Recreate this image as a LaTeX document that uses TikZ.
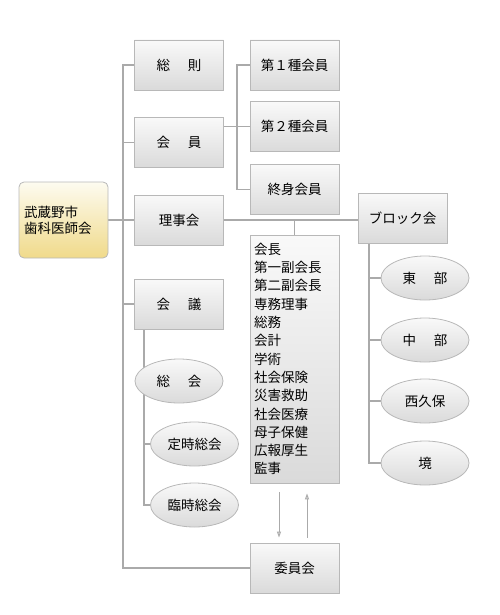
\documentclass[tikz,border=0pt]{standalone}
\usepackage{fontspec}
\setmainfont{Noto Sans CJK JP}
\usetikzlibrary{positioning,backgrounds,calc,arrows.meta,shapes.geometric}

\definecolor{linegray}{HTML}{AAAAAA}
\definecolor{boxedge}{HTML}{B8B8B8}
\definecolor{boxtop}{HTML}{F9F9F9}
\definecolor{boxbot}{HTML}{DADADA}
\definecolor{goldtop}{HTML}{FDFBF0}
\definecolor{goldbot}{HTML}{F0DA8A}

\begin{document}
\begin{tikzpicture}[
  x=1pt, y=-1pt,
  font=\fontsize{13.5}{16}\selectfont,
  unit/.style={
    rectangle, draw=boxedge, line width=0.8pt,
    top color=boxtop, bottom color=boxbot,
    minimum width=89pt, minimum height=50pt,
    inner sep=2pt, align=center
  },
  rootbox/.style={
    rectangle, draw=boxedge, line width=0.8pt, rounded corners=5pt,
    top color=goldtop, bottom color=goldbot,
    minimum width=89pt, minimum height=76pt,
    align=left, text width=79pt
  },
  officer/.style={
    unit, minimum height=248pt, text width=81pt, align=left,
    font=\fontsize{13.5}{18.3}\selectfont
  },
  oval/.style={
    ellipse, draw=boxedge, line width=0.8pt,
    top color=boxtop, bottom color=boxbot,
    minimum width=88pt, minimum height=44pt, inner sep=0pt
  },
  conn/.style={draw=linegray, line width=1.2pt},
  flow/.style={-{Triangle[open,length=6pt,width=4pt]}, draw=linegray, line width=1pt}
]
\useasboundingbox (0,0) rectangle (500,615);

% left side
\node[rootbox] (musashino) at (63.5,220) {武蔵野市\\歯科医師会};

\node[unit] (sosoku) at (179,65) {総\hspace{1.3em}則};
\node[unit, below=27pt of sosoku] (kaiin) {会\hspace{1.3em}員};
\node[unit] (rijikai) at (179,220) {理事会};
\node[unit] (kaigi) at (179,304) {会\hspace{1.3em}議};

% members
\node[unit] (shu1) at (294.5,65) {第１種会員};
\node[unit, below=11pt of shu1] (shu2) {第２種会員};
\node[unit, below=12pt of shu2] (shushin) {終身会員};

% officers and committee
\node[officer] (yakuin) at (294.5,359) {会長\\第一副会長\\第二副会長\\専務理事\\総務\\会計\\学術\\社会保険\\災害救助\\社会医療\\母子保健\\広報厚生\\監事};
\node[unit] (iinkai) at (294.5,568) {委員会};

% meetings
\node[oval] (sokai) at (179,381) {総\hspace{1.3em}会};
\node[oval] (teiji) at (194.5,444) {定時総会};
\node[oval] (rinji) at (194.5,505) {臨時総会};

% blocks
\node[unit] (block) at (402.5,218) {ブロック会};
\node[oval] (higashi) at (425,278) {東\hspace{1.3em}部};
\node[oval] (naka) at (425,340) {中\hspace{1.3em}部};
\node[oval] (nishikubo) at (425,401) {西久保};
\node[oval] (sakai) at (425,463) {境};

\coordinate (trunk) at (123,0);
\coordinate (memtrunk) at (237,0);
\coordinate (meettrunk) at (144,0);
\coordinate (blocktrunk) at (369,0);

\begin{scope}[on background layer]
  \draw[conn] (sosoku.west) -- (sosoku.west -| trunk) |- (iinkai.west);
  \draw[conn] (kaiin.west) -- (kaiin.west -| trunk);
  \draw[conn] (rijikai.west) -- (rijikai.west -| trunk);
  \draw[conn] (kaigi.west) -- (kaigi.west -| trunk);
  \draw[conn] (musashino.east) -- (musashino.east -| trunk);

  \draw[conn] (shu1.west) -- (shu1.west -| memtrunk) |- (shushin.west);
  \draw[conn] (shu2.west) -- (shu2.west -| kaiin.east);

  \draw[conn] (rijikai.east) -- (rijikai.east -| block.west);
  \draw[conn] (yakuin.north |- rijikai.east) -- (yakuin.north);

  \draw[conn] (kaigi.south -| meettrunk) |- (rinji.west);
  \draw[conn] (teiji.west) -- (teiji.west -| meettrunk);

  \draw[conn] (block.south -| blocktrunk) |- (sakai.west);
  \draw[conn] (higashi.west) -- (higashi.west -| blocktrunk);
  \draw[conn] (naka.west) -- (naka.west -| blocktrunk);
  \draw[conn] (nishikubo.west) -- (nishikubo.west -| blocktrunk);
\end{scope}

\draw[flow, shorten <=9pt, shorten >=5pt] ([xshift=-15.5pt]yakuin.south) -- ([xshift=-15.5pt]iinkai.north);
\draw[flow, shorten <=5pt, shorten >=10pt] ([xshift=12.5pt]iinkai.north) -- ([xshift=12.5pt]yakuin.south);

\end{tikzpicture}
\end{document}
